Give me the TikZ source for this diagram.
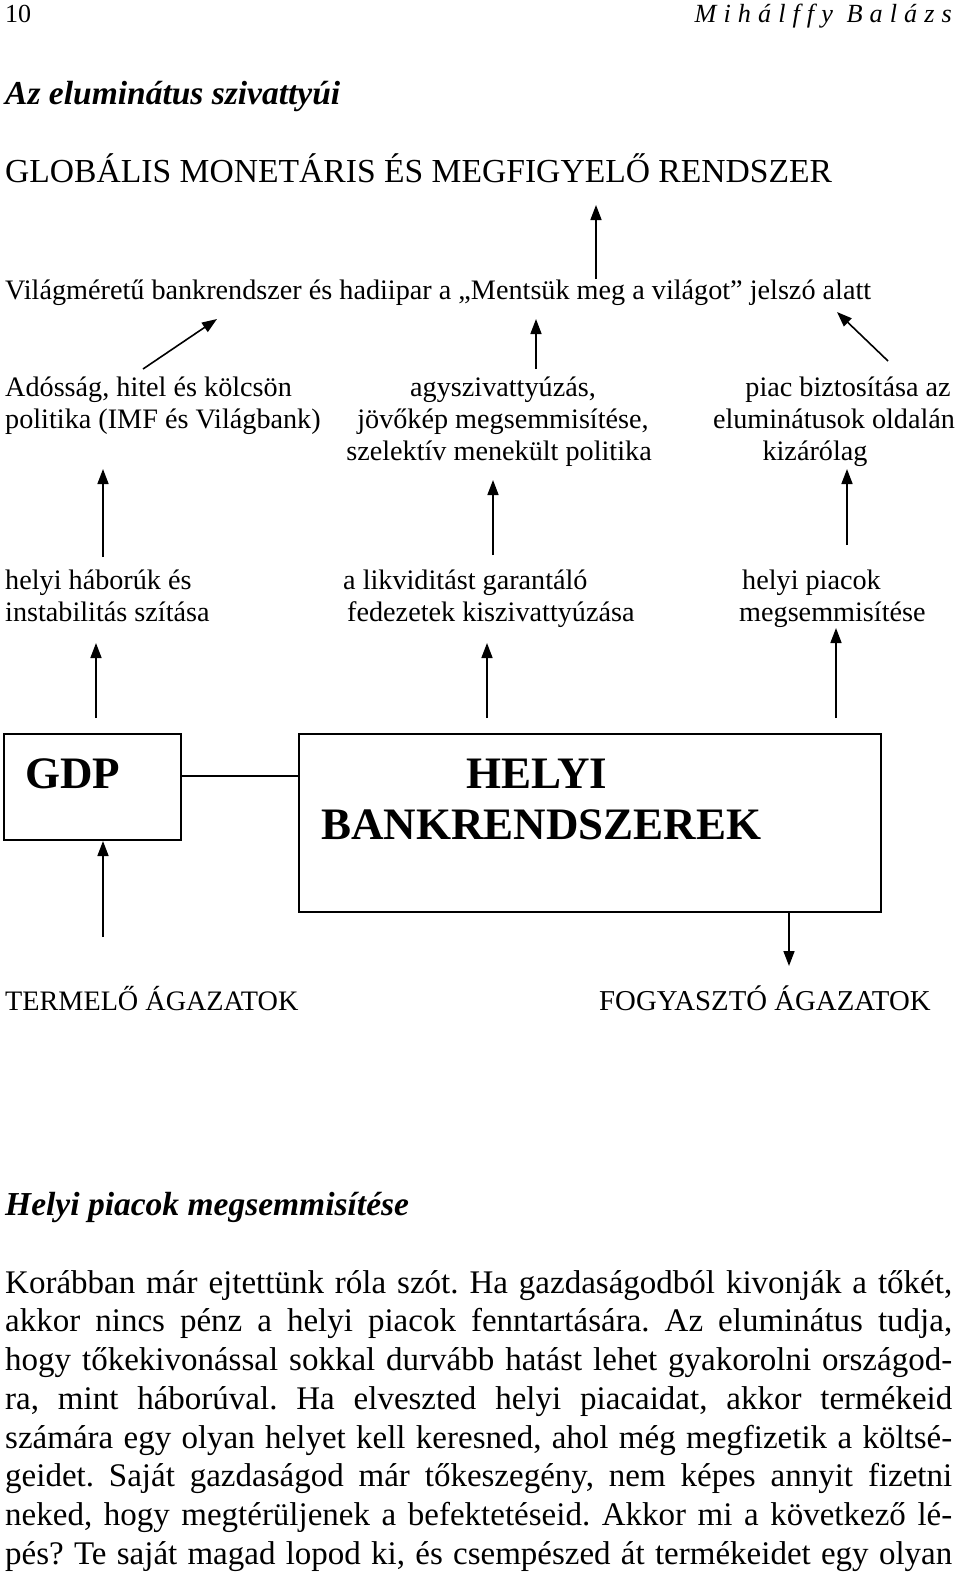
\documentclass[tikz,border=0pt]{standalone}
\usepackage{fontspec}
\setmainfont{Liberation Serif}
\newfontfamily\spacedfont[LetterSpace=27]{Liberation Serif}
\usetikzlibrary{arrows.meta}
\tikzset{
  lbl/.style={inner sep=0pt, font=\fontsize{28.2}{32}\selectfont},
  big/.style={inner sep=0pt, font=\fontsize{33.6}{38}\selectfont},
  bodyline/.style={inner sep=0pt, anchor=base west, font=\fontsize{33}{38}\selectfont\frenchspacing},
  boxfr/.style={draw, line width=2pt},
  arr/.style={line width=1.6pt, -{Triangle[length=15pt,width=11pt]}},
  plain/.style={line width=2pt},
  bigbold/.style={inner sep=0pt, anchor=base west, font=\fontsize{45}{51}\selectfont\bfseries}
}
\begin{document}
\begin{tikzpicture}[x=1pt,y=-1pt]
\useasboundingbox (0,0) rectangle (960,1575);
% header
\node[inner sep=0pt, anchor=base west, font=\fontsize{26}{30}\selectfont] (pg) at (5,22) {10};
\node[inner sep=0pt, anchor=base east, font=\fontsize{26.2}{30}\selectfont\spacedfont\itshape] (au) at (952,22) {Mihálffy Balázs};
\node[big, anchor=base west, font=\fontsize{33.5}{38}\selectfont\bfseries\itshape] (t1) at (5,104) {Az eluminátus szivattyúi};
\node[big, anchor=base west] (glob) at (5,182) {GLOBÁLIS MONETÁRIS ÉS MEGFIGYELŐ RENDSZER};
\node[lbl, anchor=base west] (vilag) at (5,299) {Világméretű bankrendszer és hadiipar a „Mentsük meg a világot” jelszó alatt};
% row 1 (base anchor = last line)
\node[lbl, anchor=base west, align=left] (ados) at (5,428) {Adósság, hitel és kölcsön\\politika (IMF és Világbank)};
\node[lbl, anchor=base, align=center] (agy) at (503,460) {agyszivattyúzás,\\jövőkép megsemmisítése,\\szelektív menekült politika\hspace*{8pt}};
\node[lbl, anchor=base, align=center] (piac) at (834,460) {\hspace*{28pt}piac biztosítása az\\eluminátusok oldalán\\kizárólag\hspace*{38pt}};
% row 2
\node[lbl, anchor=base west, align=left] (hab) at (5,621) {helyi háborúk és\\instabilitás szítása};
\node[lbl, anchor=base west, align=left] (lik) at (343,621) {a likviditást garantáló\\\hspace*{4pt}fedezetek kiszivattyúzása};
\node[lbl, anchor=base west, align=left] (hp) at (739,621) {\hspace*{3pt}helyi piacok\\megsemmisítése};
% boxes
\node[boxfr, minimum width=177pt, minimum height=106pt, anchor=north west] (gdp) at (3,733) {};
\node[bigbold] (gdpt) at (25,788) {GDP};
\node[boxfr, minimum width=582pt, minimum height=178pt, anchor=north west] (bank) at (298,733) {};
\node[bigbold] (bankt1) at (466,788) {HELYI};
\node[bigbold] (bankt2) at (321,839) {BANKRENDSZEREK};
\draw[plain] (gdp.east |- 0,776) -- (bank.west |- 0,776);
% bottom labels
\node[lbl, anchor=base west] (term) at (5,1010) {TERMELŐ ÁGAZATOK};
\node[lbl, anchor=base west, font=\fontsize{28.8}{32}\selectfont] (fogy) at (599,1010) {FOGYASZTÓ ÁGAZATOK};
% arrows
\coordinate (a1s) at (596,279); \coordinate (a1e) at (596,205);
\draw[arr] (a1s) -- (a1e);
\coordinate (a2s) at (143,369); \coordinate (a2e) at (217,319);
\draw[arr] (a2s) -- (a2e);
\coordinate (a3s) at (536,369); \coordinate (a3e) at (536,319);
\draw[arr] (a3s) -- (a3e);
\coordinate (a4s) at (888,361); \coordinate (a4e) at (837,312);
\draw[arr] (a4s) -- (a4e);
\coordinate (b1s) at (103,557); \coordinate (b1e) at (103,469);
\draw[arr] (b1s) -- (b1e);
\coordinate (b2s) at (493,555); \coordinate (b2e) at (493,480);
\draw[arr] (b2s) -- (b2e);
\coordinate (b3s) at (847,545); \coordinate (b3e) at (847,469);
\draw[arr] (b3s) -- (b3e);
\coordinate (c1s) at (96,718); \coordinate (c1e) at (96,643);
\draw[arr] (c1s) -- (c1e);
\coordinate (c2s) at (487,718); \coordinate (c2e) at (487,643);
\draw[arr] (c2s) -- (c2e);
\coordinate (c3s) at (836,718); \coordinate (c3e) at (836,628);
\draw[arr] (c3s) -- (c3e);
\coordinate (d1s) at (103,937); \coordinate (d1e) at (103,841);
\draw[arr] (d1s) -- (d1e);
\coordinate (d2e) at (789,966);
\draw[arr] (bank.south -| d2e) -- (d2e);
% section
\node[inner sep=0pt, anchor=base west, font=\fontsize{33.5}{38}\selectfont\bfseries\itshape] (t2) at (5,1215) {Helyi piacok megsemmisítése};
\node[bodyline] (p1) at (5,1293) {\hbox to 947pt{Korábban már ejtettünk róla szót. Ha gazdaságodból kivonják a tőkét,}};
\node[bodyline] (p2) at (5,1331.75) {\hbox to 947pt{akkor nincs pénz a helyi piacok fenntartására. Az eluminátus tudja,}};
\node[bodyline] (p3) at (5,1370.5) {\hbox to 947pt{hogy tőkekivonással sokkal durvább hatást lehet gyakorolni országod-}};
\node[bodyline] (p4) at (5,1409.25) {\hbox to 947pt{ra, mint háborúval. Ha elveszted helyi piacaidat, akkor termékeid}};
\node[bodyline] (p5) at (5,1448) {\hbox to 947pt{számára egy olyan helyet kell keresned, ahol még megfizetik a költsé-}};
\node[bodyline] (p6) at (5,1486.75) {\hbox to 947pt{geidet. Saját gazdaságod már tőkeszegény, nem képes annyit fizetni}};
\node[bodyline] (p7) at (5,1525.5) {\hbox to 947pt{neked, hogy megtérüljenek a befektetéseid. Akkor mi a következő lé-}};
\node[bodyline] (p8) at (5,1564.25) {\hbox to 947pt{pés? Te saját magad lopod ki, és csempészed át termékeidet egy olyan}};
\end{tikzpicture}
\end{document}
